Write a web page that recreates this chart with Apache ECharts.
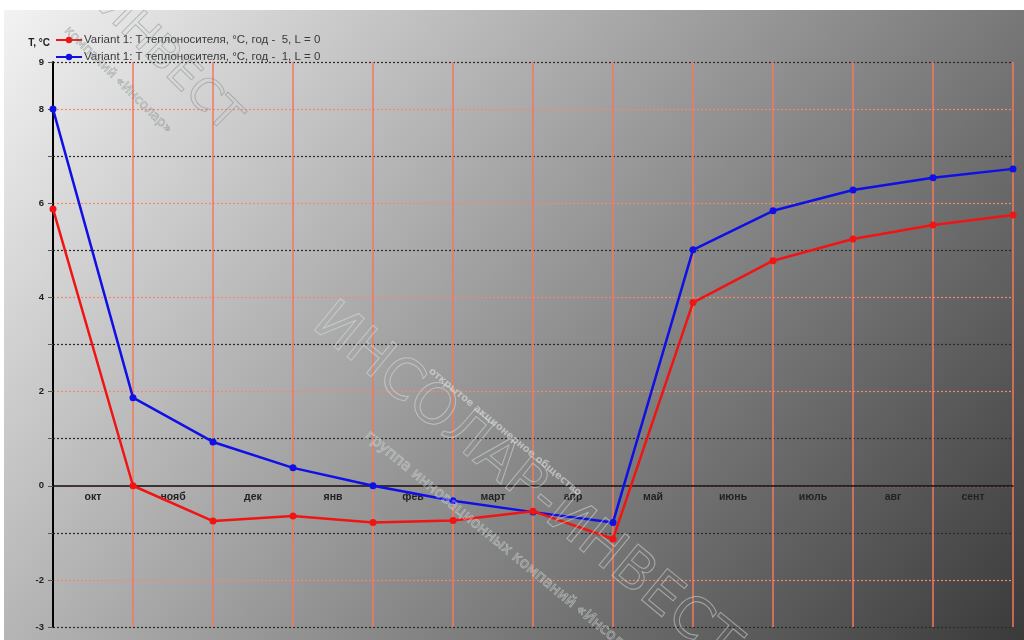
<!DOCTYPE html>
<html>
<head>
<meta charset="utf-8">
<script src="https://cdn.jsdelivr.net/npm/echarts@6/dist/echarts.min.js"></script>
<style>
  html, body { margin: 0; padding: 0; background: #fff; }
  #chart { width: 1024px; height: 640px; }
</style>
</head>
<body>
<div id="chart"></div>
<script>
  // месяцы между точками, точки - границы месяцев
  var months = ['окт', 'нояб', 'дек', 'янв', 'фев', 'март', 'апр', 'май', 'июнь', 'июль', 'авг', 'сент']
  var nameYear5 = 'Variant 1: T теплоносителя, °C, год -  5, L = 0'
  var nameYear1 = 'Variant 1: T теплоносителя, °C, год -  1, L = 0'
  var tYear5 = [5.88, 0.0, -0.75, -0.64, -0.78, -0.74, -0.54, -1.13, 3.89, 4.78, 5.24, 5.54, 5.75]
  var tYear1 = [8.0, 1.87, 0.93, 0.38, 0.0, -0.32, -0.56, -0.78, 5.01, 5.84, 6.28, 6.54, 6.73]

  function toPoints(arr) {
    return arr.map(function (v, i) { return [i, v] })
  }

  var chart = echarts.init(document.getElementById('chart'))

  var wmStroke = 'rgba(220,232,226,0.5)'

  var option = {
    animation: false,
    backgroundColor: {
      type: 'linear', x: 0, y: 0, x2: 0.908, y2: 1.18,
      colorStops: [{ offset: 0, color: '#f4f4f4' }, { offset: 1, color: '#3a3a3a' }]
    },
    textStyle: { fontFamily: 'Liberation Sans, Arial, sans-serif' },
    graphic: [
      { type: 'rect', shape: { x: 0, y: 0, width: 1024, height: 10 }, style: { fill: '#fff' }, z: 100 },
      { type: 'rect', shape: { x: 0, y: 0, width: 4, height: 640 }, style: { fill: '#fff' }, z: 100 },
      // водяной знак
      {
        type: 'text', x: 525, y: 485, rotation: -0.69, z: 50, silent: true,
        style: {
          text: 'ИНСОЛАР-ИНВЕСТ', font: '56px "DejaVu Sans", sans-serif',
          fill: 'rgba(255,255,255,0)', stroke: wmStroke, lineWidth: 1,
          align: 'center', verticalAlign: 'middle'
        }
      },
      {
        type: 'text', x: 505, y: 432, rotation: -0.69, z: 50, silent: true,
        style: {
          text: 'открытое акционерное общество', font: 'bold 10px "DejaVu Sans", sans-serif',
          fill: 'rgba(225,232,228,0.55)', align: 'center', verticalAlign: 'middle'
        }
      },
      {
        type: 'text', x: 505, y: 548, rotation: -0.69, z: 50, silent: true,
        style: {
          text: 'группа инновационных компаний «Инсолар»', font: '15px "DejaVu Sans", sans-serif',
          fill: 'rgba(255,255,255,0)', stroke: wmStroke, lineWidth: 0.8,
          align: 'center', verticalAlign: 'middle'
        }
      },
      {
        type: 'text', x: 168, y: 62, rotation: -0.78, z: 50, silent: true,
        style: {
          text: 'ИНВЕСТ', font: '44px "DejaVu Sans", sans-serif',
          fill: 'rgba(255,255,255,0)', stroke: 'rgba(120,135,128,0.5)', lineWidth: 0.9,
          align: 'center', verticalAlign: 'middle'
        }
      },
      {
        type: 'text', x: 118, y: 80, rotation: -0.78, z: 50, silent: true,
        style: {
          text: 'компаний «Инсолар»', font: '13px "DejaVu Sans", sans-serif',
          fill: 'rgba(255,255,255,0)', stroke: 'rgba(120,135,128,0.55)', lineWidth: 0.6,
          align: 'center', verticalAlign: 'middle'
        }
      }
    ],
    legend: {
      orient: 'vertical',
      left: 50,
      top: 29,
      itemWidth: 26,
      itemHeight: 8,
      itemGap: 5,
      data: [nameYear5, nameYear1],
      textStyle: { fontSize: 11.5, color: '#3a3a3a', padding: [0, 0, 0, -3] }
    },
    grid: [
      { left: 53, right: 11, top: 62, bottom: 13, containLabel: false },
      // вспомогательная сетка: нижний край на нуле, только для подписей месяцев
      { left: 53, right: 11, top: 62, height: 424, containLabel: false }
    ],
    xAxis: [
      {
        type: 'value', gridIndex: 0, min: 0, max: 12, interval: 1,
        axisLine: { show: true, onZero: true, lineStyle: { color: '#111', width: 1.5 } },
        axisTick: { show: false },
        axisLabel: { show: false },
        splitLine: { show: true, lineStyle: { color: '#f5785c', width: 1.5, type: 'solid' } }
      },
      {
        type: 'category', gridIndex: 1, data: months, boundaryGap: true,
        axisLine: { show: false },
        axisTick: { show: false },
        splitLine: { show: false },
        axisLabel: { margin: 6, fontSize: 10.5, fontWeight: 'bold', color: '#222' }
      }
    ],
    yAxis: [
      {
        type: 'value', gridIndex: 0, min: -3, max: 9, interval: 1,
        name: 'T, °C', nameLocation: 'end', nameGap: 14,
        nameTextStyle: { fontSize: 10, fontWeight: 'bold', color: '#222', align: 'right', padding: [0, 3, 0, 0] },
        axisLine: { onZero: false, lineStyle: { color: '#000', width: 2 } },
        axisTick: { show: true, length: 5, lineStyle: { color: '#555' } },
        axisLabel: {
          margin: 9, fontSize: 9.5, fontWeight: 'bold', color: '#222',
          formatter: function (v) { return (v % 2 === 0 || v === 9 || v === -3) ? String(v) : '' }
        },
        splitLine: {
          show: true,
          lineStyle: { color: ['#2a2a2a', '#f7866c'], type: [2, 2], width: 1.2 }
        }
      },
      {
        type: 'value', gridIndex: 1, show: false
      }
    ],
    series: [
      {
        name: nameYear1, type: 'line', xAxisIndex: 0, yAxisIndex: 0, z: 3,
        data: toPoints(tYear1),
        symbol: 'circle', symbolSize: 7,
        lineStyle: { color: '#1010e6', width: 2.5 },
        itemStyle: { color: '#1010e6' }
      },
      {
        name: nameYear5, type: 'line', xAxisIndex: 0, yAxisIndex: 0, z: 4,
        data: toPoints(tYear5),
        symbol: 'circle', symbolSize: 7,
        lineStyle: { color: '#f01414', width: 2.5 },
        itemStyle: { color: '#f01414' }
      }
    ]
  }

  chart.setOption(option)
</script>
</body>
</html>
